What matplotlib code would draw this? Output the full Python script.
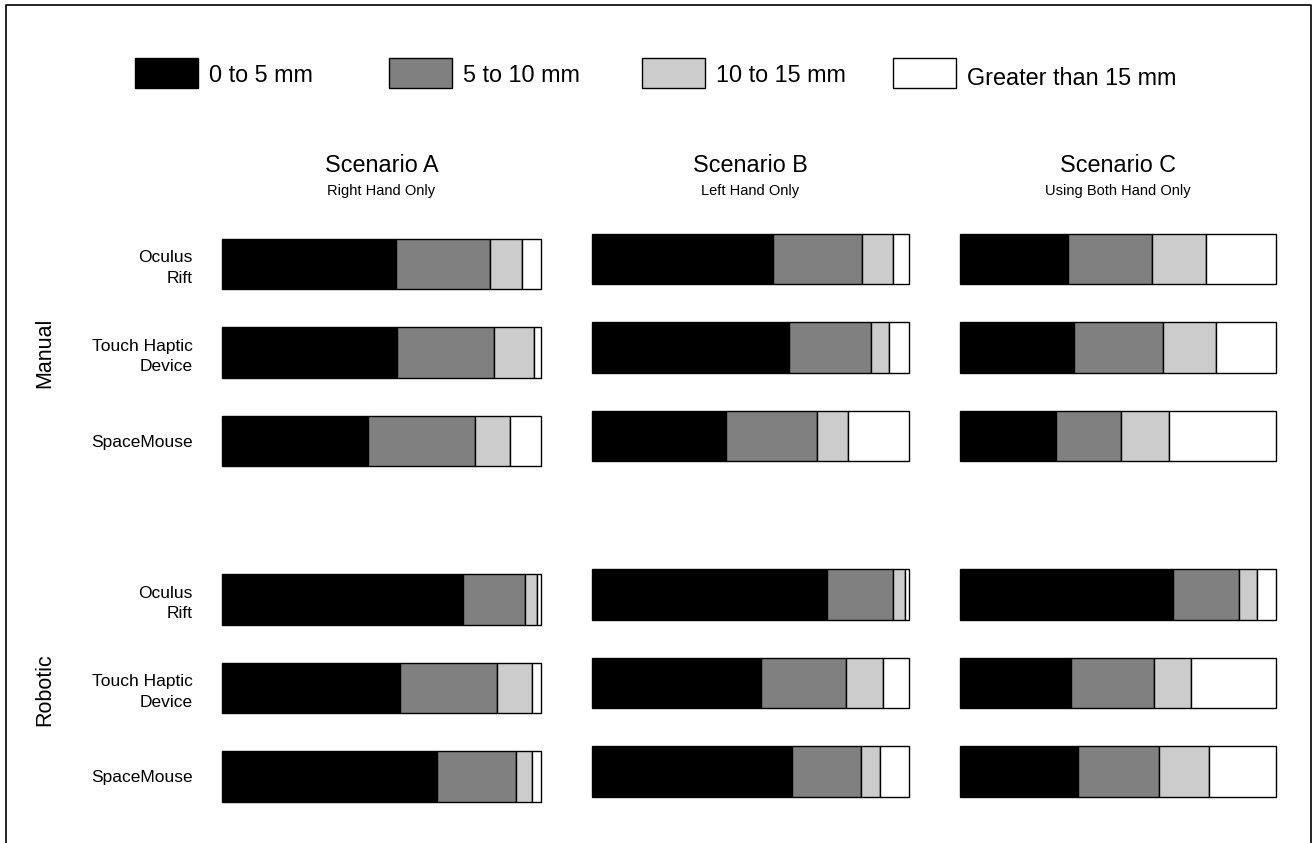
import matplotlib.pyplot as plt
from matplotlib.patches import Rectangle
import numpy as np

plt.rcParams['font.family'] = ['Liberation Sans', 'DejaVu Sans']

ranges = ['0 to 5 mm', '5 to 10 mm', '10 to 15 mm', 'Greater than 15 mm']
colors = ['#000000', '#808080', '#cccccc', '#ffffff']
devices = ['Oculus\nRift', 'Touch Haptic\nDevice', 'SpaceMouse']
modes = ['Manual', 'Robotic']
scenarios = ['Scenario A', 'Scenario B', 'Scenario C']
subtitles = ['Right Hand Only', 'Left Hand Only', 'Using Both Hand Only']

# % of trials in each error range; rows = manual (3 devices), robotic (3 devices)
scen_a = [[54.5, 29.5, 10.0, 6.0],
          [54.8, 30.4, 12.7, 2.1],
          [45.7, 33.5, 11.0, 9.8],
          [75.5, 19.5, 3.8, 1.2],
          [55.8, 30.4, 10.9, 2.9],
          [67.5, 24.6, 5.1, 2.8]]
scen_b = [[57.2, 27.9, 9.8, 5.1],
          [62.1, 25.8, 5.9, 6.2],
          [42.3, 28.7, 9.9, 19.1],
          [74.1, 20.7, 4.0, 1.2],
          [53.3, 26.7, 11.8, 8.2],
          [63.1, 21.8, 6.0, 9.1]]
scen_c = [[34.2, 26.7, 17.0, 22.1],
          [36.2, 28.0, 16.9, 19.0],
          [30.3, 20.8, 15.1, 33.9],
          [67.3, 20.9, 5.8, 6.0],
          [35.3, 26.0, 11.8, 27.0],
          [37.3, 25.8, 15.9, 21.1]]

W, H = 1314, 843
fig = plt.figure(figsize=(W / 100, H / 100), dpi=100)

# background layer in pixel coords for frame + legend
bg = fig.add_axes([0, 0, 1, 1])
bg.set_xlim(0, W)
bg.set_ylim(H, 0)
bg.axis('off')
bg.plot([5.5, 5.5, 1310.5, 1310.5], [H, 4.5, 4.5, H], color='black', lw=1.2)

leg_x = [135, 389, 642, 893]
for i, lab in enumerate(ranges):
    bg.add_patch(Rectangle((leg_x[i], 57.5), 63, 30, facecolor=colors[i],
                           edgecolor='black', lw=1))
    bg.text(leg_x[i] + 74, 82 + (3 if i == 3 else 0), lab, fontsize=16.8,
            va='baseline', ha='left')

ypos = np.array([0, 1, 2, 3.79, 4.79, 5.79])
step = 88.5
cols = [(222, 541, 264), (592, 909, 259), (960, 1276, 259)]
data = [scen_a, scen_b, scen_c]

for k, (x0, x1, yc0) in enumerate(cols):
    top = yc0 - 0.5 * step
    bot = yc0 + 6.3 * step
    ax = fig.add_axes([x0 / W, 1 - bot / H, (x1 - x0) / W, (bot - top) / H])
    vals = np.array(data[k])
    tot = vals.sum(axis=1, keepdims=True)
    vals = vals / tot * 100
    left = np.zeros(len(vals))
    for j in range(4):
        ax.barh(ypos, vals[:, j], left=left, height=0.57, color=colors[j],
                edgecolor='black', linewidth=1, clip_on=False)
        left += vals[:, j]
    ax.set_xlim(0, 100)
    ax.set_ylim(6.3, -0.5)
    for s in ax.spines.values():
        s.set_visible(False)
    ax.set_xticks([])
    if k == 0:
        ax.set_yticks(ypos, devices * 2, fontsize=12.5)
        for t in ax.get_yticklabels():
            t.set_linespacing(1.45)
        ax.tick_params(axis='y', length=0, pad=21)
    else:
        ax.set_yticks([])
    xc = (x0 + x1) / 2 / W
    fig.text(xc, 1 - 165 / H, scenarios[k], fontsize=16.8, ha='center', va='center')
    fig.text(xc, 1 - 191 / H, subtitles[k], fontsize=10.5, ha='center', va='center')

fig.text(45 / W, 1 - 353 / H, modes[0], fontsize=15.5, rotation=90, ha='center', va='center')
fig.text(45 / W, 1 - 690 / H, modes[1], fontsize=15.5, rotation=90, ha='center', va='center')

fig.savefig('out.png', dpi=100, facecolor='white')
